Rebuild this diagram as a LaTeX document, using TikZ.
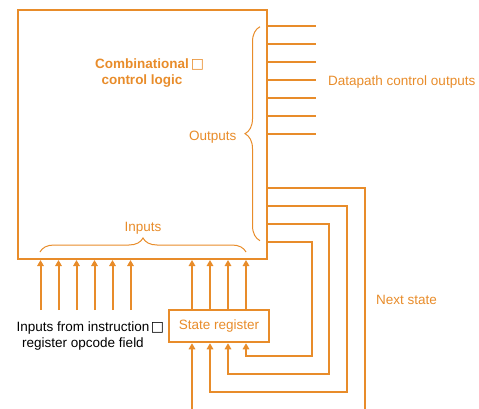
\documentclass[tikz,border=0pt]{standalone}
\usepackage{fontspec}
\setmainfont{Liberation Sans}
\newfontfamily\symfont{DejaVu Sans}
\usetikzlibrary{arrows.meta,decorations.pathreplacing,calc}
\definecolor{ctrl}{RGB}{232,140,42}

\begin{document}
\begin{tikzpicture}[x=1pt,y=-1pt,
  wire/.style={draw=ctrl,line width=2pt},
  arr/.style={wire,-{Triangle[width=6.5pt,length=6pt]}},
  lbl/.style={text=ctrl,font=\fontsize{13.5}{17}\selectfont,inner sep=0pt},
  note/.style={text=black,font=\fontsize{13.5}{17}\selectfont,inner sep=0pt},
  title/.style={text=ctrl,font=\fontsize{13.5}{17}\selectfont\bfseries,inner sep=0pt},
  brc/.style={draw=ctrl,line width=1pt,decorate,decoration={brace,amplitude=#1}},
]
\useasboundingbox (0,0) rectangle (479,409);

% combinational logic block and state register
\node[wire,minimum width=249pt,minimum height=249pt,inner sep=0pt] (ccl) at (142.5,134.5) {};
\node[wire,lbl,minimum width=100pt,minimum height=32.5pt] (sr) at (219,326) {State register};

% block title
\node[title,anchor=base] (t1) at (142,68.3) {Combinational\rlap{\kern2pt\symfont\mdseries\fontsize{14}{14}\selectfont □}};
\node[title,anchor=base] (t2) at (142,85) {control logic};

% datapath control outputs
\foreach \i/\y in {1/26.5,2/44.5,3/62.5,4/80.5,5/98.5,6/116.5,7/134.5}{
  \coordinate (o\i) at (316,\y);
  \draw[wire] (ccl.east |- o\i) -- (o\i);
}
\node[lbl,anchor=base west] (dco) at (328,86) {Datapath control outputs};

% outputs brace
\draw[brc=15pt] (260,240.7) -- (260,26.7);
\node[lbl,anchor=base east] (outl) at (236.5,140) {Outputs};

% inputs brace
\draw[brc=14pt] (40,252) -- (246,252);
\node[lbl,anchor=base] (inl) at (143,231.7) {Inputs};

% opcode inputs
\foreach \i/\x in {1/40.5,2/58.5,3/76.5,4/94.5,5/112.5,6/130.5}{
  \coordinate (op\i) at (\x,310);
  \draw[arr] (op\i) -- (ccl.south -| op\i);
}
\node[note,anchor=base] (opa) at (83,331.7) {Inputs from instruction\rlap{\kern1.5pt\symfont\fontsize{14}{14}\selectfont □}};
\node[note,anchor=base] (opb) at (83,347.3) {register opcode field};

% current state into the logic
\foreach \x in {192,210,228,246}{
  \draw[arr] (sr.north -| \x,0) -- (ccl.south -| \x,0);
}

% next state feedback
\draw[arr] (ccl.east |- 0,241.5) -| (311.5,356) -| (sr.south -| 246,0);
\draw[arr] (ccl.east |- 0,223.5) -| (329,374) -| (sr.south -| 228,0);
\draw[arr] (ccl.east |- 0,205.5) -| (347,392) -| (sr.south -| 210,0);
\coordinate (nsout) at (365,409);
\draw[wire] (ccl.east |- 0,187.5) -| (nsout);
\coordinate (nsin) at (192,409);
\draw[arr] (nsin) -- (sr.south -| nsin);
\node[lbl,anchor=base west] (nsl) at (376,304) {Next state};
\end{tikzpicture}
\end{document}
